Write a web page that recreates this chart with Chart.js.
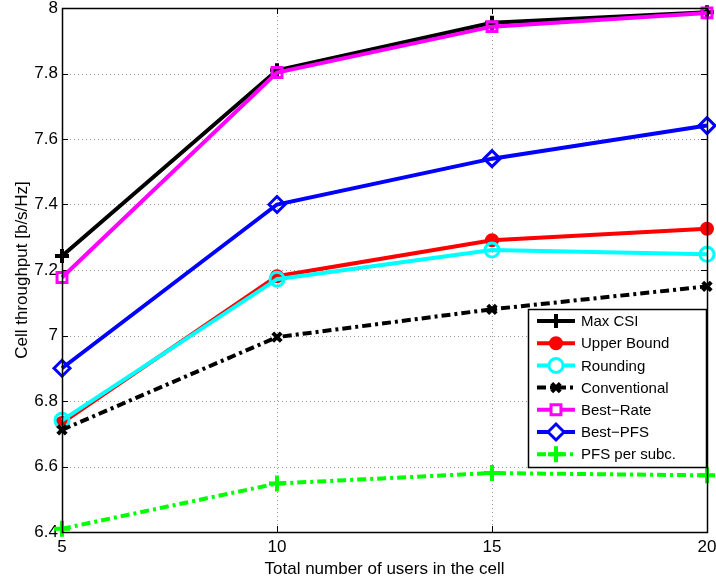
<!DOCTYPE html>
<html>
<head>
<meta charset="utf-8">
<script src="https://cdn.jsdelivr.net/npm/chart.js@4/dist/chart.umd.min.js"></script>
<style>
html,body{margin:0;padding:0;background:#fff;}
#wrap{width:716px;height:583px;}
</style>
</head>
<body>
<div id="wrap"><canvas id="c" width="716" height="583"></canvas></div>
<script>
const users = [5, 10, 15, 20];
const maxCSI = [7.243, 7.810, 7.955, 7.987];
const upperBound = [6.733, 7.181, 7.291, 7.326];
const rounding = [6.741, 7.172, 7.261, 7.248];
const conventional = [6.712, 6.995, 7.080, 7.150];
const bestRate = [7.177, 7.803, 7.943, 7.985];
const bestPFS = [6.900, 7.400, 7.540, 7.641];
const pfsPerSubc = [6.410, 6.548, 6.580, 6.573];
const seriesNames = ['Max CSI','Upper Bound','Rounding','Conventional','Best\u2212Rate','Best\u2212PFS','PFS per subc.'];
const xTicks = [5, 10, 15, 20];
const yTicks = [6.4, 6.6, 6.8, 7, 7.2, 7.4, 7.6, 7.8, 8];

const FONT = '"Liberation Sans", Arial, Helvetica, sans-serif';
const dashDot = [9, 4, 3, 4];

const styles = [
  {color:'#000000', point:'cross', fill:false, dash:[], radius:7, pbw:4},
  {color:'#ff0000', point:'circle', fill:true, dash:[], radius:6, pbw:2},
  {color:'#00ffff', point:'circle', fill:false, dash:[], radius:7, pbw:3},
  {color:'#000000', point:'crossRot', fill:false, dash:dashDot, radius:6, pbw:4},
  {color:'#ff00ff', point:'rect', fill:false, dash:[], radius:7, pbw:3},
  {color:'#0000ff', point:'rectRot', fill:false, dash:[], radius:8, pbw:3},
  {color:'#00ff00', point:'cross', fill:false, dash:dashDot, radius:8, pbw:4}
];
const values = [maxCSI, upperBound, rounding, conventional, bestRate, bestPFS, pfsPerSubc];

const N = values.length;
const datasets = values.map((vals, i) => {
  const s = styles[i];
  return {
    label: seriesNames[i],
    data: users.map((u, j) => ({x: u, y: vals[j]})),
    borderColor: s.color,
    backgroundColor: s.fill ? s.color : 'rgba(0,0,0,0)',
    pointBackgroundColor: s.fill ? s.color : 'rgba(255,255,255,0)',
    pointBorderColor: s.color,
    pointStyle: s.point,
    pointRadius: s.radius,
    pointBorderWidth: s.pbw,
    pointHoverRadius: s.radius,
    borderWidth: 4,
    borderDash: s.dash,
    tension: 0,
    fill: false,
    clip: false,
    order: N - i
  };
});

const framePlugin = {
  id: 'frame',
  beforeDatasetsDraw(chart) {
    const {ctx, chartArea: a, scales} = chart;
    ctx.save();
    ctx.strokeStyle = '#999';
    ctx.lineWidth = 1;
    ctx.setLineDash([1, 3]);
    scales.x.ticks.forEach(t => {
      const px = Math.round(scales.x.getPixelForValue(t.value)) + 0.5;
      ctx.beginPath(); ctx.moveTo(px, a.top); ctx.lineTo(px, a.bottom); ctx.stroke();
    });
    scales.y.ticks.forEach(t => {
      const py = Math.round(scales.y.getPixelForValue(t.value)) + 0.5;
      ctx.beginPath(); ctx.moveTo(a.left, py); ctx.lineTo(a.right, py); ctx.stroke();
    });
    ctx.setLineDash([]);
    ctx.strokeStyle = '#000';
    ctx.lineWidth = 1;
    scales.x.ticks.forEach(t => {
      const px = Math.round(scales.x.getPixelForValue(t.value)) + 0.5;
      ctx.beginPath(); ctx.moveTo(px, a.bottom); ctx.lineTo(px, a.bottom - 6); ctx.stroke();
      ctx.beginPath(); ctx.moveTo(px, a.top); ctx.lineTo(px, a.top + 6); ctx.stroke();
    });
    scales.y.ticks.forEach(t => {
      const py = Math.round(scales.y.getPixelForValue(t.value)) + 0.5;
      ctx.beginPath(); ctx.moveTo(a.left, py); ctx.lineTo(a.left + 6, py); ctx.stroke();
      ctx.beginPath(); ctx.moveTo(a.right, py); ctx.lineTo(a.right - 6, py); ctx.stroke();
    });
    ctx.restore();
  },
  afterDatasetsDraw(chart) {
    const {ctx, chartArea: a} = chart;
    ctx.save();
    ctx.strokeStyle = '#000';
    ctx.lineWidth = 1.5;
    ctx.strokeRect(Math.round(a.left) + 0.5, Math.round(a.top) + 0.5, Math.round(a.right - a.left), Math.round(a.bottom - a.top));
    ctx.restore();
  },
  afterDraw(chart) {
    const {ctx} = chart;
    const bx = 528, by = 309, bw = 178, bh = 158;
    ctx.save();
    ctx.fillStyle = '#fff';
    ctx.fillRect(bx, by, bw, bh);
    ctx.strokeStyle = '#000';
    ctx.lineWidth = 1.5;
    ctx.strokeRect(bx + 0.5, by + 0.5, bw, bh);
    const rowH = 22.2;
    chart.data.datasets.forEach((ds, i) => {
      const s = styles[i];
      const y = by + 12 + i * rowH;
      ctx.save();
      ctx.strokeStyle = s.color;
      ctx.lineWidth = 4;
      ctx.setLineDash(s.dash);
      ctx.beginPath(); ctx.moveTo(537, y); ctx.lineTo(575, y); ctx.stroke();
      ctx.restore();
      ctx.save();
      ctx.setLineDash([]);
      ctx.strokeStyle = s.color;
      ctx.fillStyle = s.fill ? s.color : '#ffffff';
      ctx.lineWidth = s.pbw;
      Chart.helpers.drawPoint(ctx, {
        pointStyle: s.point,
        radius: s.radius,
        rotation: 0,
        borderWidth: s.pbw
      }, 556, y);
      ctx.restore();
      ctx.fillStyle = '#000';
      ctx.font = '15px ' + FONT;
      ctx.textBaseline = 'middle';
      ctx.textAlign = 'left';
      ctx.fillText(ds.label, 581, y + 1);
    });
    ctx.restore();
  }
};

new Chart(document.getElementById('c'), {
  type: 'line',
  data: { datasets },
  options: {
    responsive: false,
    animation: false,
    events: [],
    layout: { autoPadding: false, padding: { top: 8, right: 9, left: 0, bottom: 0 } },
    plugins: { legend: { display: false }, tooltip: { enabled: false } },
    scales: {
      x: {
        type: 'linear',
        min: 5, max: 20,
        afterBuildTicks: s => { s.ticks = xTicks.map(v => ({value: v})); },
        afterFit: s => { s.height = 51; s.paddingLeft = 0; s.paddingRight = 0; },
        grid: { display: false, drawTicks: false },
        border: { display: false },
        ticks: { color: '#000', font: { family: FONT, size: 17 }, padding: 5, maxRotation: 0,
                  callback: v => String(v) },
        title: { display: true, text: 'Total number of users in the cell', color: '#000',
                 font: { family: FONT, size: 17 }, padding: { top: 0, bottom: 3 } }
      },
      y: {
        type: 'linear',
        min: 6.4, max: 8,
        afterBuildTicks: s => { s.ticks = yTicks.map(v => ({value: v})); },
        afterFit: s => { s.width = 62; s.paddingTop = 0; s.paddingBottom = 0; },
        grid: { display: false, drawTicks: false },
        border: { display: false },
        ticks: { color: '#000', font: { family: FONT, size: 17 }, padding: 4,
                 callback: v => String(Math.round(v * 10) / 10) },
        title: { display: true, text: 'Cell throughput [b/s/Hz]', color: '#000',
                 font: { family: FONT, size: 17 }, padding: { top: 12, bottom: 0 } }
      }
    }
  },
  plugins: [framePlugin]
});
</script>
</body>
</html>
